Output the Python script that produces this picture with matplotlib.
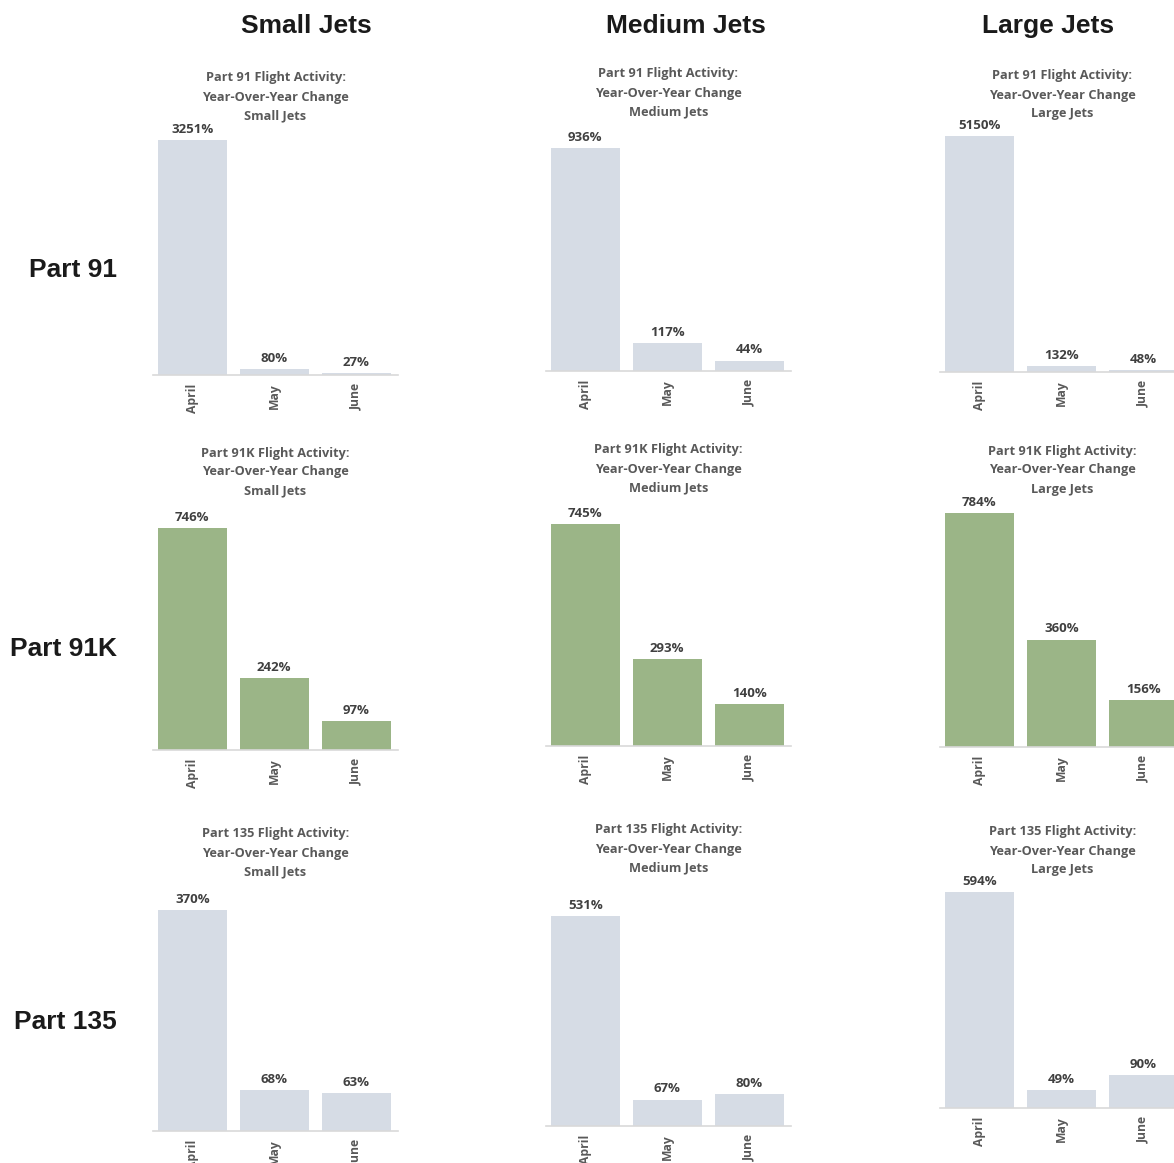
import matplotlib.pyplot as plt

# data
months = ["April", "May", "June"]
row_names = ["Part 91", "Part 91K", "Part 135"]
col_names = ["Small Jets", "Medium Jets", "Large Jets"]

part91 = [[3251, 80, 27], [936, 117, 44], [5150, 132, 48]]
part91k = [[746, 242, 97], [745, 293, 140], [784, 360, 156]]
part135 = [[370, 68, 63], [531, 67, 80], [594, 49, 90]]
values = [part91, part91k, part135]

bar_colors = ["#D6DCE5", "#9BB587", "#D6DCE5"]

# layout in pixels (figure is 1174 x 1163)
W, H = 1174, 1163
col_left = [153, 546, 940]
ax_w = 245
# baseline / top of tallest bar per row, per column
baselines = [[375, 371, 372], [750, 746, 747], [1131, 1126, 1108]]
tops = [[140, 148, 136], [528, 524, 513], [910, 916, 892]]
title_y = [[78, 74, 76], [453, 450, 451], [834, 830, 832]]
row_label_y = [269, 648, 1021]

fig = plt.figure(figsize=(W / 100, H / 100), dpi=100)

for r in range(3):
    for c in range(3):
        vals = values[r][c]
        left = col_left[c] / W
        bottom = 1 - baselines[r][c] / H
        height = (baselines[r][c] - tops[r][c]) / H
        ax = fig.add_axes([left, bottom, ax_w / W, height])
        ax.bar(range(3), vals, width=0.84, color=bar_colors[r])
        ax.set_xlim(-0.48, 2.51)
        ax.set_ylim(0, max(vals))
        for i, v in enumerate(vals):
            ax.annotate(f"{v}%", (i, v), xytext=(0, 3), textcoords="offset points",
                        ha="center", va="bottom", fontsize=9.5, fontweight="bold",
                        color="#404040", family="Open Sans", annotation_clip=False)
        ax.set_xticks(range(3))
        ax.set_xticklabels(months, rotation=90, fontsize=8.7, fontweight="bold",
                           color="#595959", family="Open Sans")
        ax.tick_params(axis="x", length=0, pad=6)
        ax.set_yticks([])
        for s in ["top", "right", "left"]:
            ax.spines[s].set_visible(False)
        ax.spines["bottom"].set_color("#D9D9D9")
        ax.spines["bottom"].set_linewidth(1.2)

        cx = (col_left[c] + ax_w / 2) / W
        lines = [f"{row_names[r]} Flight Activity:", "Year-Over-Year Change", col_names[c]]
        for k, line in enumerate(lines):
            fig.text(cx, 1 - (title_y[r][c] + 19 * k) / H, line, ha="center", va="center",
                     fontsize=9.2, fontweight="bold", color="#595959", family="Open Sans")

# column headers
col_head_x = [306, 686, 1048]
for c in range(3):
    fig.text(col_head_x[c] / W, 1 - 26 / H, col_names[c], ha="center", va="center",
             fontsize=19, fontweight="bold", color="#1a1a1a", family="Liberation Sans")

# row headers
for r in range(3):
    fig.text(117 / W, 1 - (row_label_y[r] + 1) / H, row_names[r], ha="right", va="center",
             fontsize=19, fontweight="bold", color="#1a1a1a", family="Liberation Sans")

fig.savefig("out.png", dpi=100)
